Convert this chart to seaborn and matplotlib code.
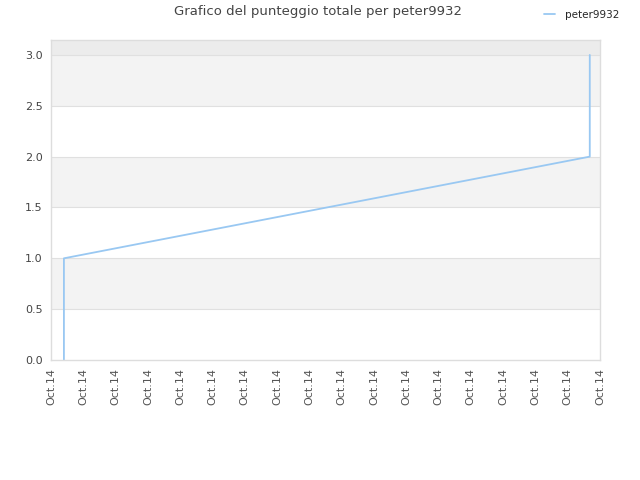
import matplotlib
matplotlib.use("Agg")
import matplotlib.pyplot as plt
import matplotlib.dates as mdates
import seaborn as sns
import pandas as pd

# Data
player = "peter9932"
times = ["2014-10-14 12:00:24", "2014-10-14 12:00:24",
         "2014-10-14 12:16:41", "2014-10-14 12:16:41"]
scores = [0, 1, 2, 3]
tick_times = pd.date_range("2014-10-14 12:00:00", periods=18, freq="1min")
tick_labels = ["Oct.14"] * len(tick_times)

df = pd.DataFrame({"time": pd.to_datetime(times), "score": scores, "player": player})

sns.set_style("white")
plt.rcParams["font.family"] = ["DejaVu Sans"]

fig = plt.figure(figsize=(6.4, 4.8), dpi=100)
ax = fig.add_axes([51/640, 120/480, 549/640, 320/480])

ymax = 3.147
# alternating bands
for lo, hi in [(0.5, 1.0), (1.5, 2.0), (2.5, 3.0)]:
    ax.axhspan(lo, hi, color="#f3f3f3", zorder=0, lw=0)
ax.axhspan(3.0, ymax, color="#ececec", zorder=0, lw=0)
for y in [0.5, 1.0, 1.5, 2.0, 2.5, 3.0]:
    ax.axhline(y, color="#e0e0e0", lw=0.8, zorder=0.5)

sns.lineplot(data=df, x="time", y="score", ax=ax, color="#99c8f2",
             lw=1.3, sort=False, estimator=None, label=player, legend=False)

ax.set_xlim(tick_times[0], tick_times[-1])
ax.set_ylim(0, ymax)
ax.set_xticks(tick_times)
ax.set_xticklabels(tick_labels, rotation=90, fontsize=8, color="#555555")
ax.set_yticks([0, 0.5, 1.0, 1.5, 2.0, 2.5, 3.0])
ax.set_yticklabels(["0.0", "0.5", "1.0", "1.5", "2.0", "2.5", "3.0"], fontsize=8, color="#444444")
ax.tick_params(axis="both", length=0, pad=6)
ax.set_xlabel("")
ax.set_ylabel("")
for s in ax.spines.values():
    s.set_color("#dddddd")
    s.set_linewidth(1)

fig.text(318/640, 1 - 12/480, "Grafico del punteggio totale per peter9932",
         ha="center", va="center", fontsize=9.5, color="#444444")

# legend
handles, labels = ax.get_legend_handles_labels()
fig.legend(handles, labels, loc="center left", bbox_to_anchor=(540/640, 1 - 15/480),
           frameon=False, fontsize=7.5, handlelength=1.0, handletextpad=1.0,
           borderaxespad=0)

fig.savefig("out.png", dpi=100)
